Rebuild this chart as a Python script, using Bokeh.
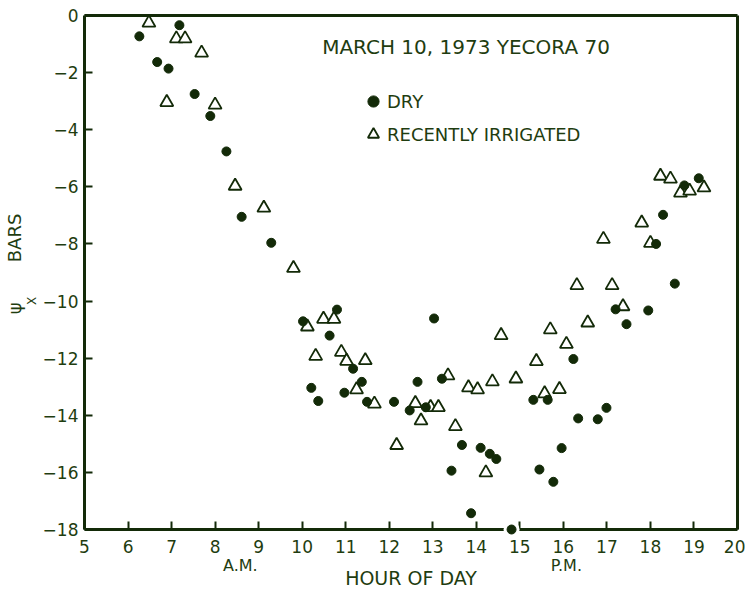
import math
from bokeh.plotting import figure
from bokeh.models import Range1d, LinearAxis, FixedTicker, Label, Legend, LegendItem
from bokeh.embed import file_html
from bokeh.resources import INLINE

# ---- data ----
dry_hour = [6.26, 7.18, 6.67, 6.93, 7.53, 7.89, 8.26, 8.61, 9.29,
            10.02, 10.21, 10.37, 10.63, 10.80, 10.97, 11.17, 11.37, 11.49,
            12.11, 12.47, 12.65, 12.84, 13.03, 13.21, 13.43, 13.67, 13.88,
            14.10, 14.31, 14.46, 14.81,
            15.31, 15.45, 15.64, 15.77, 15.96,
            16.23, 16.34, 16.79, 16.99,
            17.20, 17.45, 17.95,
            18.13, 18.29, 18.56, 18.78, 19.11]
dry_psi = [-0.73, -0.34, -1.63, -1.86, -2.75, -3.52, -4.76, -7.05, -7.96,
           -10.71, -13.04, -13.50, -11.21, -10.30, -13.21, -12.37, -12.83, -13.53,
           -13.53, -13.83, -12.83, -13.72, -10.61, -12.72, -15.94, -15.04, -17.43,
           -15.14, -15.35, -15.53, -18.0,
           -13.46, -15.90, -13.46, -16.33, -15.15,
           -12.03, -14.11, -14.14, -13.74,
           -10.29, -10.81, -10.33,
           -8.00, -6.98, -9.39, -5.95, -5.70]

irr_hour = [6.48, 7.11, 7.31, 7.69, 6.89, 8.00, 8.46, 9.12, 9.80,
            10.12, 10.49, 10.73, 10.31, 10.90, 11.02, 11.45, 11.25, 11.66,
            12.17, 12.60, 12.73, 12.95, 13.13, 13.35, 13.52, 13.82, 14.03,
            14.37, 14.22, 14.57, 14.91,
            15.38, 15.57, 15.70, 15.91, 16.07, 16.31, 16.56, 16.92,
            17.12, 17.37, 17.80, 18.00, 18.23, 18.46, 18.69, 18.90, 19.23]
irr_psi = [-0.26, -0.81, -0.81, -1.31, -3.04, -3.13, -5.97, -6.74, -8.85,
           -10.90, -10.63, -10.63, -11.93, -11.79, -12.10, -12.08, -13.10, -13.60,
           -15.05, -13.58, -14.19, -13.72, -13.72, -12.61, -14.39, -13.03, -13.10,
           -12.82, -16.01, -11.20, -12.72,
           -12.11, -13.24, -11.00, -13.09, -11.51, -9.45, -10.76, -7.83,
           -9.45, -10.19, -7.26, -7.97, -5.62, -5.72, -6.21, -6.14, -6.03]

x_ticks = list(range(5, 21))
y_ticks = list(range(0, -19, -2))
X_MIN, X_MAX = 5, 20
Y_MIN, Y_MAX = -18, 0

NBSP = "\u00a0"
title_text = "MARCH 10, 1973   YECORA 70"
dry_label = "DRY"
irr_label = "RECENTLY IRRIGATED"
x_title = "HOUR OF DAY"
y_title = NBSP * 3 + "ψ" + NBSP * 7 + "BARS"
period_labels = {8.58: "A.M.", 16.07: "P.M."}
y_sub_labels = {-9.85: "X"}

# ---- styles ----
INK = "#132a08"
TXT = "#1f3d10"
FONT = "DejaVu Sans"

p = figure(width=745, height=591,
           x_range=Range1d(X_MIN, X_MAX), y_range=Range1d(Y_MIN, Y_MAX),
           output_backend="svg", toolbar_location=None,
           min_border_left=83, min_border_right=8, min_border_top=15,
           min_border_bottom=60)
p.grid.visible = False
p.outline_line_color = None
p.background_fill_color = "white"
p.border_fill_color = "white"

xa = p.xaxis[0]
xa.ticker = FixedTicker(ticks=x_ticks)
ya = p.yaxis[0]
ya.ticker = FixedTicker(ticks=y_ticks)
for ax in (xa, ya):
    ax.axis_line_color = INK
    ax.axis_line_width = 3
    ax.major_tick_line_color = INK
    ax.major_tick_line_width = 2
    ax.major_tick_in = 8
    ax.major_tick_out = 0
    ax.minor_tick_line_color = None
    ax.major_label_text_font = FONT
    ax.major_label_text_font_size = "17px"
    ax.major_label_text_color = TXT
xa.major_label_standoff = 10
ya.major_label_standoff = 6


def text_axis(ticks_map, size, standoff, orientation="horizontal"):
    return LinearAxis(ticker=FixedTicker(ticks=list(ticks_map.keys())),
                      major_label_overrides=ticks_map,
                      axis_line_color=None, major_tick_line_color=None,
                      minor_tick_line_color=None,
                      major_label_text_font=FONT,
                      major_label_text_font_size=size,
                      major_label_text_color=TXT,
                      major_label_standoff=standoff,
                      major_label_orientation=orientation,
                      axis_label_text_font=FONT,
                      axis_label_text_font_style="normal",
                      axis_label_text_color=TXT)


# A.M. / P.M. row and the HOUR OF DAY title below the tick labels
period_axis = text_axis(period_labels, "16px", -6)
period_axis.axis_label = x_title
period_axis.axis_label_text_font_size = "19px"
period_axis.axis_label_standoff = -11
p.add_layout(period_axis, "below")

# subscript X next to the tick labels, "psi  BARS" title outside it
sub_axis = text_axis(y_sub_labels, "12px", 1, math.pi / 2)
sub_axis.axis_label = y_title
sub_axis.axis_label_text_font_size = "18px"
sub_axis.axis_label_standoff = -9
p.add_layout(sub_axis, "left")

for loc in ("right", "above"):
    ax = LinearAxis(ticker=FixedTicker(ticks=[]), axis_line_color=INK,
                    axis_line_width=3, major_tick_line_color=None,
                    minor_tick_line_color=None, major_label_text_font_size="0px")
    p.add_layout(ax, loc)

# irrigated: open triangles
r_irr = p.scatter(irr_hour, irr_psi, marker="triangle", size=13,
                  fill_color="white", line_color=INK, line_width=1.8,
                  level="overlay")
# white halo where a point sits on the bottom axis (breaks the axis line)
halo_x = [h for h, v in zip(dry_hour, dry_psi) if v <= Y_MIN]
halo_y = [v for v in dry_psi if v <= Y_MIN]
p.scatter(halo_x, halo_y, marker="circle", size=16, fill_color="white",
          line_color=None, level="overlay")
# dry: filled circles
r_dry = p.scatter(dry_hour, dry_psi, marker="circle", size=9,
                  fill_color=INK, line_color=INK, level="overlay")

legend = Legend(items=[LegendItem(label=dry_label, renderers=[r_dry]),
                       LegendItem(label=irr_label, renderers=[r_irr])],
                location=(275, 381), orientation="vertical",
                border_line_color=None, background_fill_alpha=0,
                padding=0, margin=0, spacing=5,
                glyph_width=28, glyph_height=28, label_standoff=0,
                label_text_font=FONT, label_text_font_size="18px",
                label_text_color=TXT)
p.add_layout(legend)

p.add_layout(Label(x=13.91, y=-1.09, text=title_text, text_font=FONT,
                   text_font_size="20px", text_color=TXT,
                   text_align="center", text_baseline="middle"))

open("out.html", "w").write(file_html(p, INLINE))
